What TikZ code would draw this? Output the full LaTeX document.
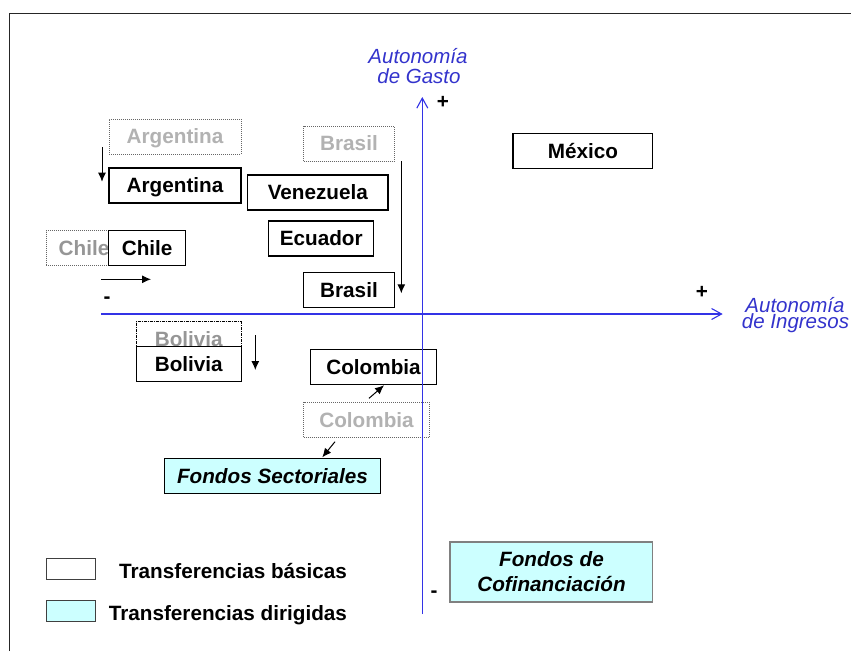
\documentclass[tikz,border=0pt]{standalone}
\usepackage{fontspec}
\setmainfont{Liberation Sans}
\usetikzlibrary{arrows.meta}
\definecolor{axisblue}{RGB}{51,51,230}
\definecolor{labelblue}{RGB}{51,51,204}
\definecolor{cyanfill}{RGB}{204,255,255}
\definecolor{lightgraytxt}{RGB}{178,178,178}
\definecolor{midgraytxt}{RGB}{150,150,150}
\begin{document}
\begin{tikzpicture}[x=1pt,y=-1pt,
  every node/.style={inner sep=0pt, outer sep=0pt},
  lbl/.style={font=\fontsize{20.7}{24}\selectfont\bfseries, text height=14.8pt, text depth=0pt},
  basebox/.style={lbl, draw=black, line width=1.2pt, fill=white, minimum height=35pt},
  ghostbox/.style={lbl, draw=black!60, line width=0.9pt, dash pattern=on 1pt off 1pt, fill=white, minimum height=35pt, text=lightgraytxt},
  ghostdark/.style={lbl, draw=black, line width=1pt, dash pattern=on 3pt off 1pt on 1pt off 1pt, fill=white, minimum height=35pt, text=midgraytxt},
  dirbox/.style={lbl, draw=black, line width=1.2pt, fill=cyanfill, font=\fontsize{20.7}{24}\selectfont\bfseries\itshape},
  axislbl/.style={font=\fontsize{20.5}{24}\selectfont\itshape, text=labelblue},
  sign/.style={font=\fontsize{20.7}{24}\selectfont\bfseries},
  axisline/.style={draw=axisblue, line width=1.1pt},
  shiftarrow/.style={draw=black, line width=1pt, -{Latex[length=9pt,width=8pt]}},
  legtxt/.style={lbl, anchor=east}
]
\useasboundingbox (0,0) rectangle (851,651);
% frame
\coordinate (fbl) at (9.3,651);
\coordinate (ftl) at (9.3,13.3);
\coordinate (ftr) at (851,13.3);
\draw[black!85, line width=1.2pt] (fbl) -- (ftl) -- (ftr);

% ghost (previous) positions
\node[ghostbox, minimum width=132pt] (argD) at (175,136.5) {Argentina};
\node[ghostbox, minimum width=90.6pt] (braD) at (349,143.5) {Brasil};
\node[ghostbox, minimum width=76pt, text=midgraytxt] (chiD) at (84,248) {Chile};
\node[ghostdark, minimum width=105pt] (bolD) at (188.8,339.2) {Bolivia};
\node[ghostbox, minimum width=125.6pt] (colD) at (366.5,419.8) {Colombia};

% current positions
\node[basebox, minimum width=132pt] (arg) at (175,185.5) {Argentina};
\node[basebox, minimum width=140.3pt] (ven) at (317.85,192.5) {Venezuela};
\node[basebox, minimum width=105pt] (ecu) at (321.2,238.5) {Ecuador};
\node[basebox, minimum width=90.6pt, minimum height=34.6pt] (bra) at (349,290) {Brasil};
\node[basebox, minimum width=77pt] (chi) at (147.2,248) {Chile};
\node[basebox, minimum width=105pt] (bol) at (188.8,364.2) {Bolivia};
\node[basebox, minimum width=126.4pt] (col) at (373.5,366.8) {Colombia};
\node[basebox, minimum width=139.7pt] (mex) at (582.85,150.8) {México};

% directed transfers
\node[dirbox, minimum width=216.4pt, minimum height=34.6pt] (fs) at (272.5,476) {Fondos Sectoriales};
\node[dirbox, draw=black!50, minimum width=202.7pt, minimum height=60pt] (cof) at (551.35,572) {};
\node[lbl, font=\fontsize{20.7}{24}\selectfont\bfseries\itshape, anchor=base] (cof1) at (551.5,566.7) {Fondos de};
\node[lbl, font=\fontsize{20.7}{24}\selectfont\bfseries\itshape, anchor=base] (cof2) at (551.5,591.7) {Cofinanciación};

% shift arrows
\coordinate (aS) at (102,147); \coordinate (aE) at (102,181.7);
\draw[shiftarrow] (aS) -- (aE);
\coordinate (cS) at (101,279.3); \coordinate (cE) at (151,279.3);
\draw[shiftarrow] (cS) -- (cE);
\coordinate (bS) at (401.3,161); \coordinate (bE) at (401.3,293.3);
\draw[shiftarrow] (bS) -- (bE);
\coordinate (vS) at (255.3,335); \coordinate (vE) at (255.3,370);
\draw[shiftarrow] (vS) -- (vE);
\coordinate (k1S) at (369,398.3); \coordinate (k1E) at (384,385.3);
\draw[shiftarrow] (k1S) -- (k1E);
\coordinate (k2S) at (335,441.7); \coordinate (k2E) at (322.3,457.3);
\draw[shiftarrow] (k2S) -- (k2E);

% axes
\coordinate (yB) at (422.3,614); \coordinate (yT) at (422.3,97);
\coordinate (xL) at (101,314); \coordinate (xR) at (722.7,314);
\draw[axisline, -{Straight Barb[length=10pt,width=11pt,line width=1.1pt]}] (yB) -- (yT);
\draw[axisline, -{Straight Barb[length=10pt,width=11pt,line width=1.1pt]}] (xL) -- (xR);

\node[axislbl, anchor=base] (ag1) at (418,63) {Autonomía};
\node[axislbl, anchor=base] (ag2) at (419,83) {de Gasto};
\node[axislbl, anchor=base] (ai1) at (795,312) {Autonomía};
\node[axislbl, anchor=base] (ai2) at (795.5,328.3) {de Ingresos};

\node[sign] (pT) at (443,102) {+};
\node[sign] (pR) at (702,292) {+};
\node[sign] (mL) at (107,300) {-};
\node[sign] (mB) at (434,594) {-};

% legend
\node[draw=black!75, line width=1pt, fill=white, minimum width=49pt, minimum height=21pt] (leg1) at (70.5,568.8) {};
\node[draw=black!75, line width=1pt, fill=cyanfill, minimum width=49pt, minimum height=21pt] (leg2) at (70.5,610.8) {};
\node[legtxt] (legt1) at (347,571.2) {Transferencias básicas};
\node[legtxt] (legt2) at (347,613.3) {Transferencias dirigidas};
\end{tikzpicture}
\end{document}
